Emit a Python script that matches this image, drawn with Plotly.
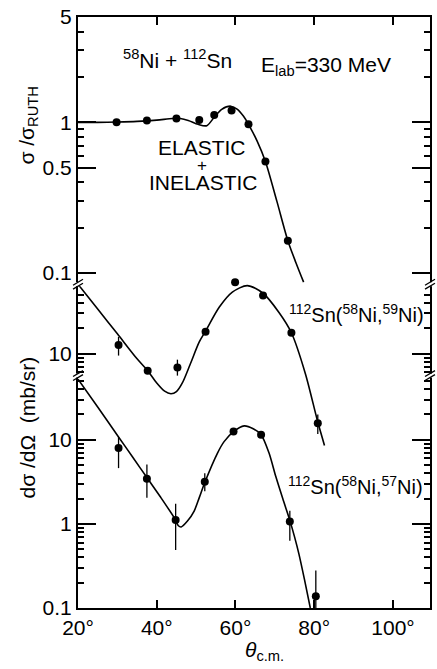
import plotly.graph_objects as go

# ---------------- data ----------------
# elastic + inelastic (sigma / sigma_Ruth)
theta_el = [29.8, 37.5, 45.0, 50.8, 54.6, 59.0, 63.3, 67.6, 73.3]
ratio_el = [1.00, 1.03, 1.06, 1.035, 1.12, 1.20, 0.97, 0.55, 0.164]
theta_el_fit = [20, 25, 30, 35, 40, 44, 46, 48, 50.5, 52.7, 54.6, 56.5, 58.8, 60.5, 62, 63.3, 65.5, 67.6, 70.5, 73.3, 75.3, 77.3]
ratio_el_fit = [1.00, 1.00, 1.005, 1.015, 1.035, 1.06, 1.06, 1.03, 0.97, 0.95, 1.08, 1.22, 1.28, 1.22, 1.10, 0.97, 0.75, 0.55, 0.30, 0.164, 0.118, 0.087]

# 112Sn(58Ni,59Ni)  (mb/sr)
theta_59 = [30.3, 37.7, 45.25, 52.4, 59.9, 67.0, 74.2, 80.9]
xs_59 = [12.7, 6.3, 6.85, 18.2, 70.0, 49.0, 17.7, 1.5]
err59_up = [3.1, 0, 1.65, 0, 0, 0, 0, 0.4]
err59_dn = [3.2, 0, 1.35, 0, 0, 0, 0, 0.38]
theta_59_fit = [20, 25, 30, 35, 37.7, 40, 42, 43.6, 45, 46.5, 48.5, 50.8, 52.4, 55.9, 59.2, 63, 67, 71, 74.2, 77.75, 80.9, 82.6]
xs_59_fit = [66.6, 33.8, 17.2, 8.7, 6.3, 4.5, 3.6, 3.36, 3.55, 4.5, 7.5, 13.8, 18.5, 35.7, 53.6, 64.0, 52.0, 31.0, 17.7, 5.8, 1.55, 0.82]

# 112Sn(58Ni,57Ni)  (mb/sr)
theta_57 = [30.3, 37.5, 44.8, 52.2, 59.5, 66.5, 73.8, 80.4]
xs_57 = [7.96, 3.43, 1.11, 3.16, 12.5, 11.5, 1.07, 0.138]
err57_up = [2.74, 1.64, 0.63, 0.84, 1.0, 1.0, 0.36, 0.142]
err57_dn = [3.36, 1.38, 0.62, 0.71, 1.0, 1.0, 0.44, 0.06]
theta_57_fit = [20, 25, 30.3, 34, 37.5, 41, 44.4, 45.5, 46.2, 47.8, 49.5, 50.8, 52.2, 55.4, 57.1, 59.5, 62.2, 64.5, 66.5, 68.5, 70.2, 72, 73.8, 75, 76.1, 77.5, 79.0]
xs_57_fit = [52.5, 24.5, 10.8, 6.1, 3.55, 2.07, 1.19, 0.95, 0.92, 1.08, 1.42, 2.05, 3.1, 6.9, 9.5, 12.5, 14.6, 13.5, 11.5, 7.0, 3.7, 2.0, 1.1, 0.7, 0.44, 0.22, 0.1]

x_ticks = [20, 40, 60, 80, 100]
x_ticktext = ["20°", "40°", "60°", "80°", "100°"]
top_ticks = [0.1, 0.5, 1, 5]
top_ticktext = ["0.1", "0.5", "1", "5"]
top_minor = [0.2, 0.3, 0.4, 0.6, 0.7, 0.8, 0.9, 2, 3, 4]
mid_ticks = [10]
mid_ticktext = ["10"]
mid_minor = [6, 7, 8, 9, 20, 30, 40, 50]
bot_ticks = [0.1, 1, 10]
bot_ticktext = ["0.1", "1", "10"]
bot_minor = [0.2, 0.3, 0.4, 0.5, 0.6, 0.7, 0.8, 0.9, 2, 3, 4, 5, 6, 7, 8, 9, 20, 30, 40, 50]

# ---------------- figure ----------------
FONT = "Liberation Sans"
FS = 21
K = "black"

fig = go.Figure()

def curve(x, y, ax):
    fig.add_trace(go.Scatter(x=x, y=y, mode="lines", yaxis=ax,
                             line=dict(color=K, width=1.6, shape="spline", smoothing=0.8),
                             hoverinfo="skip", showlegend=False))

def points(x, y, ax, up=None, dn=None):
    kw = {}
    if up is not None:
        kw["error_y"] = dict(type="data", array=up, arrayminus=dn, symmetric=False,
                             color=K, thickness=1.3, width=0)
    fig.add_trace(go.Scatter(x=x, y=y, mode="markers", yaxis=ax,
                             marker=dict(color=K, size=8, symbol="circle"),
                             showlegend=False, **kw))

curve(theta_el_fit, ratio_el_fit, "y")
points(theta_el, ratio_el, "y")
curve(theta_59_fit, xs_59_fit, "y2")
points(theta_59, xs_59, "y2", err59_up, err59_dn)
curve(theta_57_fit, xs_57_fit, "y3")
points(theta_57, xs_57, "y3", err57_up, err57_dn)

axis_common = dict(showline=True, linecolor=K, linewidth=2, mirror="ticks",
                   ticks="inside", tickcolor=K, tickwidth=1.8, showgrid=False,
                   zeroline=False, tickfont=dict(family=FONT, size=FS, color=K))
minor_common = dict(ticks="inside", ticklen=6, tickcolor=K, tickwidth=1.5, showgrid=False)

fig.update_layout(
    width=437, height=669,
    margin=dict(l=78, r=5, t=13, b=61),
    paper_bgcolor="white", plot_bgcolor="white",
    showlegend=False,
    xaxis=dict(range=[20, 109.4], tickmode="array", tickvals=x_ticks, ticktext=x_ticktext,
               ticklen=8, **axis_common),
    yaxis=dict(type="log", range=[-3.223, 0.699], tickmode="array", tickvals=top_ticks,
               ticktext=top_ticktext, ticklen=18,
               minor=dict(tickvals=top_minor, **minor_common),
               **axis_common),
    yaxis2=dict(type="log", range=[-2.012, 4.988], overlaying="y", side="left",
                tickmode="array", tickvals=mid_ticks, ticktext=mid_ticktext, ticklen=18,
                minor=dict(tickvals=mid_minor, **minor_common),
                **axis_common),
    yaxis3=dict(type="log", range=[-1, 6.025], overlaying="y", side="left",
                tickmode="array", tickvals=bot_ticks, ticktext=bot_ticktext, ticklen=18,
                minor=dict(tickvals=bot_minor, **minor_common),
                **axis_common),
)

# axis break marks (decoration, paper coordinates)
PX = 1 / 354
PY = 1 / 595
for yb in [(608 - 282) / 595, (608 - 374) / 595]:
    for xb in [0, 1]:
        fig.add_shape(type="rect", xref="paper", yref="paper",
                      x0=xb - 3 * PX, x1=xb + 3 * PX, y0=yb - 2 * PY, y1=yb + 2 * PY,
                      fillcolor="white", line=dict(width=0))
        for off in [-2, 2]:
            fig.add_shape(type="line", xref="paper", yref="paper",
                          x0=xb - 5 * PX, x1=xb + 5 * PX,
                          y0=yb + (off - 3) * PY, y1=yb + (off + 3) * PY,
                          line=dict(color=K, width=1.3))

def txt(text, x, y, xref="paper", yref="paper", angle=0, size=FS):
    fig.add_annotation(text=text, x=x, y=y, xref=xref, yref=yref, showarrow=False,
                       textangle=angle, xanchor="center", yanchor="middle",
                       font=dict(family=FONT, size=size, color=K))

def px_to_paper(px, py):
    return (px - 78) / 354, (608 - py) / 595

txt("<sup>58</sup>Ni + <sup>112</sup>Sn", *px_to_paper(178, 55))
txt("E<sub>lab</sub>=330 MeV", *px_to_paper(327, 62))
txt("ELASTIC", *px_to_paper(203, 144))
txt("+", *px_to_paper(203, 163), size=17)
txt("INELASTIC", *px_to_paper(204, 180))
txt("<sup>112</sup>Sn(<sup>58</sup>Ni,<sup>59</sup>Ni)", *px_to_paper(358, 312), size=20)
txt("<sup>112</sup>Sn(<sup>58</sup>Ni,<sup>57</sup>Ni)", *px_to_paper(357, 485), size=20)
txt("σ /σ<sub>RUTH</sub>", *px_to_paper(28, 122), angle=-90)
txt("dσ /dΩ  (mb/sr)", *px_to_paper(27, 426), angle=-90)
txt("<i>θ</i><sub>c.m.</sub>", *px_to_paper(266, 651))

fig.write_html("out.html")
